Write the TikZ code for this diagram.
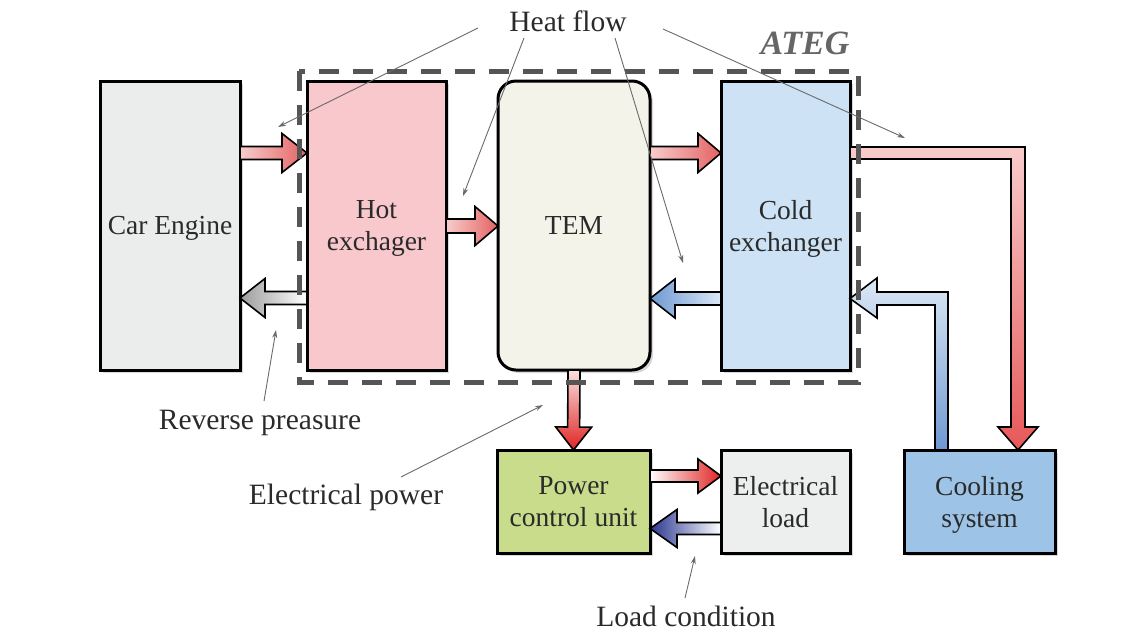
\documentclass[tikz,border=0pt]{standalone}
\usepackage{fontspec}
\setmainfont{Liberation Serif}
\usetikzlibrary{calc,arrows.meta,shadows}
\definecolor{txt}{HTML}{2A2A2A}
\definecolor{ptrc}{HTML}{6A6A6A}
\definecolor{engf}{HTML}{EBECEC}
\definecolor{hotf}{HTML}{F8C8CC}
\definecolor{temf}{HTML}{F4F3EA}
\definecolor{coldf}{HTML}{CDE2F4}
\definecolor{pcuf}{HTML}{C9DC8B}
\definecolor{loadf}{HTML}{EDEEEE}
\definecolor{coolf}{HTML}{9DC3E6}
\definecolor{atg}{HTML}{555555}
\definecolor{pinkL}{HTML}{F8CCCC}
\definecolor{pinkD}{HTML}{E46262}
\definecolor{redD}{HTML}{E02424}
\definecolor{blueL}{HTML}{DCE8F5}
\definecolor{blueD}{HTML}{6E98D2}
\definecolor{navy}{HTML}{2A3790}
\definecolor{grayD}{HTML}{9C9C9C}
\newcommand\boxfont{\fontsize{27.5}{32}\selectfont}
\newcommand\lblfont{\fontsize{29.5}{34}\selectfont}
\tikzset{
  box/.style={draw=black, line width=3pt, outer sep=0pt, align=center, text=txt, font=\boxfont,
    text depth=0pt, drop shadow={shadow xshift=3pt,shadow yshift=-3pt,opacity=0.3}},
  fat/.style={draw=black, line width=1.6pt, line join=miter},
  lbl/.style={text=txt, font=\lblfont, inner sep=0pt},
  ptr/.style={draw=ptrc, line width=0.9pt, -{Stealth[length=8pt,width=5pt]}},
}
% #2 start, #3 tip, #4 shaft half width, #5 head half width, #6 head length
\newcommand\fatarrow[6][]{%
  \coordinate (fh) at ($(#3)!#6!(#2)$);
  \filldraw[fat,#1] ($(#2)!#4!90:(#3)$) -- ($(fh)!#4!90:(#3)$) -- ($(fh)!#5!90:(#3)$) -- (#3)
    -- ($(fh)!#5!-90:(#3)$) -- ($(fh)!#4!-90:(#3)$) -- ($(#2)!#4!-90:(#3)$) -- cycle;
}
\begin{document}
\begin{tikzpicture}[x=1pt,y=-1pt]
\useasboundingbox (0,0) rectangle (1143,633);

% boxes
\node[box, fill=engf, minimum width=140pt, minimum height=289pt] (eng) at (170,225.5) {Car Engine};
\node[box, fill=hotf, minimum width=139pt, minimum height=289pt] (hot) at (376.5,225.5) {Hot\\exchager};
\node[box, fill=temf, minimum width=152pt, minimum height=289pt, rounded corners=18pt] (tem) at (574,225.5) {TEM};
\node[box, fill=coldf, minimum width=129pt, minimum height=289pt] (cold) at (785.5,225.5) {Cold\\exchanger};
\node[box, fill=pcuf, minimum width=153pt, minimum height=103pt] (pcu) at (573.5,501.5) {Power\\control unit};
\node[box, fill=loadf, minimum width=129pt, minimum height=103pt] (load) at (785.5,501.5) {Electrical\\load};
\node[box, fill=coolf, minimum width=151pt, minimum height=103pt] (cool) at (979.5,501.5) {Cooling\\system};

% block arrows
\coordinate (a1s) at (eng.east |- 0,153);  \coordinate (a1t) at (hot.west |- 0,153);
\fatarrow[left color=pinkL, right color=pinkD]{a1s}{a1t}{6.5pt}{19.5pt}{25pt}
\coordinate (a2s) at (hot.east |- 0,226);  \coordinate (a2t) at (tem.west |- 0,226);
\fatarrow[left color=pinkL, right color=pinkD]{a2s}{a2t}{7pt}{19.5pt}{23pt}
\coordinate (a3s) at (tem.east |- 0,153);  \coordinate (a3t) at (cold.west |- 0,153);
\fatarrow[left color=pinkL, right color=pinkD]{a3s}{a3t}{6.5pt}{19.5pt}{23pt}
\coordinate (a4s) at (hot.west |- 0,298);  \coordinate (a4t) at (eng.east |- 0,298);
\fatarrow[left color=grayD, right color=white]{a4s}{a4t}{6.5pt}{19.5pt}{25pt}
\coordinate (a5s) at (cold.west |- 0,298.5);  \coordinate (a5t) at (tem.east |- 0,298.5);
\fatarrow[left color=blueD, right color=blueL]{a5s}{a5t}{6.5pt}{19.5pt}{25pt}
\fatarrow[top color=pinkL!60!white, bottom color=redD]{tem.south}{pcu.north}{6pt}{18pt}{23pt}
\coordinate (a7s) at (pcu.east |- 0,476);  \coordinate (a7t) at (load.west |- 0,476);
\fatarrow[left color=white, right color=redD]{a7s}{a7t}{6pt}{17pt}{23pt}
\coordinate (a8s) at (load.west |- 0,528.5);  \coordinate (a8t) at (pcu.east |- 0,528.5);
\fatarrow[left color=navy, right color=white]{a8s}{a8t}{6pt}{19pt}{27pt}

% L-shaped arrows
\filldraw[fat, top color=pinkL, bottom color=pinkD!90!red]
  (cold.east |- 0,147) -- (1025,147) -- (1025,427) -- (1038,427) -- (1018,450)
  -- (998,427) -- (1011,427) -- (1011,159) -- (cold.east |- 0,159) -- cycle;
\filldraw[fat, top color=blueL, bottom color=blueD]
  (948,450) -- (948,292) -- (877,292) -- (877,278) -- (cold.east |- 0,298.5) -- (877,318)
  -- (877,305) -- (935,305) -- (935,450) -- cycle;

% ATEG dashed boundary
\draw[atg, line width=5pt, dash pattern=on 20pt off 14pt] (299,71) rectangle (858,382);
\node[font=\fontsize{34}{38}\selectfont\bfseries\itshape, text=atg!90!white] (ateg) at (805,43) {ATEG};

% labels and pointers
\node[lbl] (hf) at (568,21) {Heat flow};
\coordinate (h1) at (478,28); \coordinate (h1t) at (278,127);
\coordinate (h2) at (524,38); \coordinate (h2t) at (463,196);
\coordinate (h3) at (615,38); \coordinate (h3t) at (683,263);
\coordinate (h4) at (663,29); \coordinate (h4t) at (905,138);
\draw[ptr] (h1) -- (h1t);
\draw[ptr] (h2) -- (h2t);
\draw[ptr] (h3) -- (h3t);
\draw[ptr] (h4) -- (h4t);

\node[lbl] (rp) at (260,423) {Reverse preasure};
\coordinate (rp1) at (264,401); \coordinate (rp1t) at (276,330);
\draw[ptr] (rp1) -- (rp1t);

\node[lbl] (ep) at (346,497) {Electrical power};
\coordinate (ep1) at (401,477); \coordinate (ep1t) at (543,405);
\draw[ptr] (ep1) -- (ep1t);

\node[lbl] (lc) at (686,616) {Load condition};
\coordinate (lc1) at (685,598); \coordinate (lc1t) at (695,556);
\draw[ptr] (lc1) -- (lc1t);
\end{tikzpicture}
\end{document}
